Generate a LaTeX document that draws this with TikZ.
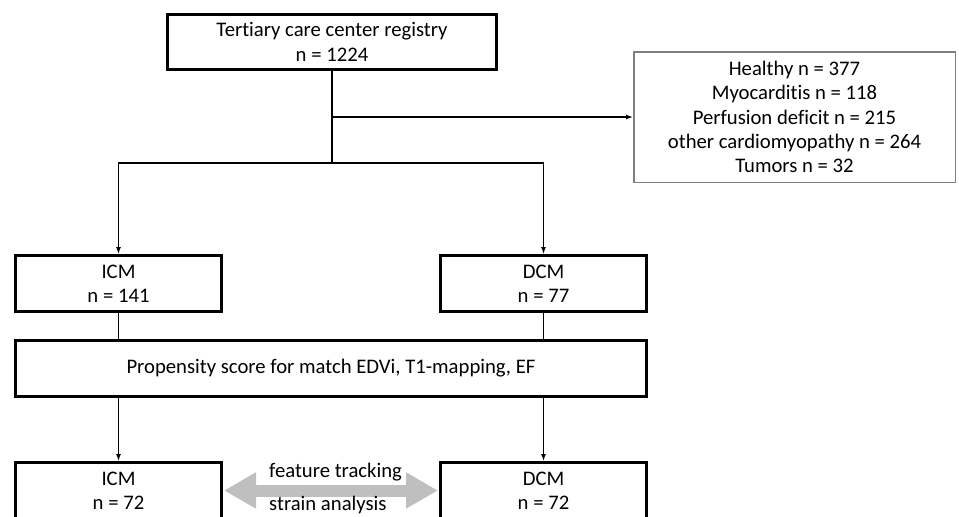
\documentclass[tikz,border=0pt]{standalone}
\usepackage{fontspec}
\setmainfont{Carlito}[Ligatures=CommonOff]
\usepackage{xcolor}
\usetikzlibrary{positioning,arrows.meta}

\definecolor{boxgray}{RGB}{128,128,128}
\definecolor{arrowgray}{RGB}{191,191,191}

\begin{document}
\begin{tikzpicture}[x=1pt, y=-1pt, >={Latex[length=7pt,width=5pt]}, on grid, auto,
  box/.style={draw, line width=2.6pt, align=center, inner sep=0pt,
    font=\fontsize{20.7}{24.4}\selectfont, minimum width=206.4pt, minimum height=56.4pt},
  exclbox/.style={draw=boxgray, line width=1.5pt, align=center, inner sep=0pt,
    font=\fontsize{20.7}{24.4}\selectfont, minimum width=321.5pt, minimum height=130.5pt},
  lbl/.style={font=\fontsize{20.7}{24.4}\selectfont, anchor=base west, inner sep=0pt},
  conn/.style={line width=1.3pt}]
\useasboundingbox (0,0) rectangle (959,517);
\clip (0,0) rectangle (959,517);
\node[box, minimum width=329.4pt, minimum height=55.4pt] (reg) at (332,42) {Tertiary care center registry\\n = 1224};
\node[exclbox] (excl) at (794.5,117) {Healthy n = 377\\Myocarditis n = 118\\Perfusion deficit n = 215\\other cardiomyopathy n = 264\\Tumors n = 32};
\node[box] (icm_1) at (118.5,283.5) {ICM\\n = 141};
\node[box] (dcm_1) [right=425pt of icm_1] {DCM\\n = 77};
\node[box, minimum width=631.4pt] (psm) at (331,368.5) {Propensity score for match EDVi, T1-mapping, EF};
\node[box] (icm_2) [below=207pt of icm_1] {ICM\\n = 72};
\node[box] (dcm_2) [below=207pt of dcm_1] {DCM\\n = 72};
\coordinate (branch) at (332,117);
\coordinate (split) at (332,163);
\path[conn]
(reg.south) edge (split)
(branch) edge [->] (excl.west)
(split) edge [->, to path={-| (\tikztotarget)}] (icm_1.north)
(split) edge [->, to path={-| (\tikztotarget)}] (dcm_1.north)
(icm_1.south) edge (icm_1.south |- psm.north)
(dcm_1.south) edge (dcm_1.south |- psm.north)
(icm_1.south |- psm.south) edge [->] (icm_2.north)
(dcm_1.south |- psm.south) edge [->] (dcm_2.north);
\draw[arrowgray, line width=12pt, {Triangle[length=32pt,width=34pt]}-{Triangle[length=32pt,width=34pt]},
  shorten <=1pt, shorten >=1pt] (icm_2.east) -- (dcm_2.west);
\node[lbl] (ft) at (269,477) {feature tracking};
\node[lbl] (sa) at (269,510) {strain analysis};
\end{tikzpicture}
\end{document}
